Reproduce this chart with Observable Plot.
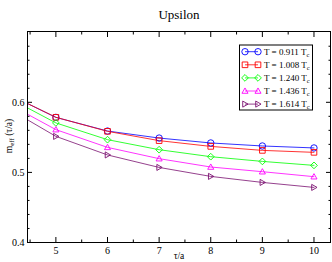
<!DOCTYPE html>
<html><head><meta charset="utf-8">
<script src="https://cdn.jsdelivr.net/npm/d3@7"></script>
<script src="https://cdn.jsdelivr.net/npm/@observablehq/plot@0.6"></script>
<style>
body{margin:0;background:#fff;}
#c{position:relative;width:332px;height:262px;}
#c svg, #c svg text, #c svg tspan{font-family:"Liberation Serif","Times New Roman","DejaVu Serif",serif !important;font-weight:normal;}
</style></head><body><div id="c"></div>
<script>
const tau = [4, 5, 6, 7, 8, 9, 10];
const seriesNames = ["T = 0.911 T", "T = 1.008 T", "T = 1.240 T", "T = 1.436 T", "T = 1.614 T"];
const s0911 = [0.6144, 0.5785, 0.5590, 0.5490, 0.5420, 0.5377, 0.5349];
const s1008 = [0.6144, 0.5786, 0.5586, 0.5453, 0.5371, 0.5314, 0.5286];
const s1240 = [0.6096, 0.5706, 0.5467, 0.5324, 0.5224, 0.5157, 0.5100];
const s1436 = [0.6010, 0.5610, 0.5357, 0.5196, 0.5077, 0.5010, 0.4939];
const s1614 = [0.5944, 0.5514, 0.5249, 0.5071, 0.4943, 0.4857, 0.4786];
const xTicks = [5, 6, 7, 8, 9, 10];
const xMinor = [4.5, 5.5, 6.5, 7.5, 8.5, 9.5];
const yTicks = [0.4, 0.5, 0.6];
const yMinor = [0.42, 0.44, 0.46, 0.48, 0.52, 0.54, 0.56, 0.58, 0.62, 0.64, 0.66, 0.68];
const colors = ["#0000ff", "#ff0000", "#00ff00", "#ff00ff", "#7a1070"];
// symbol size = pi*r^2 (r = 3.2) -> scale to a ~3px half-width
const triUp = {draw(ctx, size) { const r = Math.sqrt(size / Math.PI) * 0.95; ctx.moveTo(0, -r); ctx.lineTo(r, r * 0.75); ctx.lineTo(-r, r * 0.75); ctx.closePath(); }};
const triRight = {draw(ctx, size) { const r = Math.sqrt(size / Math.PI) * 0.95; ctx.moveTo(-r * 0.75, -r); ctx.lineTo(r, 0); ctx.lineTo(-r * 0.75, r); ctx.closePath(); }};
const square = {draw(ctx, size) { const r = Math.sqrt(size / Math.PI) * 0.88; ctx.rect(-r, -r, 2 * r, 2 * r); }};
const diamond = {draw(ctx, size) { const r = Math.sqrt(size / Math.PI) * 1.05; ctx.moveTo(0, -r); ctx.lineTo(r, 0); ctx.lineTo(0, r); ctx.lineTo(-r, 0); ctx.closePath(); }};
const circle = {draw(ctx, size) { const r = Math.sqrt(size / Math.PI); ctx.moveTo(r, 0); ctx.arc(0, 0, r, 0, 2 * Math.PI); }};
const symbols = [circle, square, diamond, triUp, triRight];
const allSeries = [s0911, s1008, s1240, s1436, s1614];
const data = [];
allSeries.forEach((s, i) => s.forEach((v, j) => data.push({tau: tau[j], m: v, k: i})));
const pts = data.filter(d => d.tau >= 5);
const R = 3.2;

const noLab = () => "";
const plot = Plot.plot({
  width: 332, height: 262,
  marginLeft: 27, marginRight: 2, marginTop: 31, marginBottom: 20,
  style: {fontSize: "10px", background: "#fff", color: "#000"},
  x: {domain: [4.45, 10.32], label: null},
  y: {domain: [0.4, 0.701], label: null},
  marks: [
    Plot.line(data, {x: "tau", y: "m", z: "k", stroke: d => colors[d.k], strokeWidth: 0.8, clip: true}),
    Plot.dot(pts, {x: "tau", y: "m", stroke: d => colors[d.k], symbol: d => symbols[d.k], r: R, strokeWidth: 0.9, fill: "none"}),
    Plot.frame({stroke: "#000", strokeWidth: 1}),
    Plot.axisX(xTicks, {anchor: "bottom", tickSize: -5, tickPadding: 9, label: null, fontSize: 10}),
    Plot.axisX(xTicks, {anchor: "top", tickSize: -5, tickFormat: noLab, label: null}),
    Plot.axisX(xMinor, {anchor: "bottom", tickSize: -2.5, tickFormat: noLab, label: null}),
    Plot.axisX(xMinor, {anchor: "top", tickSize: -2.5, tickFormat: noLab, label: null}),
    Plot.axisY(yTicks, {anchor: "left", tickSize: -5, tickPadding: 8, tickFormat: d3.format(".1f"), label: null, fontSize: 10}),
    Plot.axisY(yTicks, {anchor: "right", tickSize: -5, tickFormat: noLab, label: null}),
    Plot.axisY(yMinor, {anchor: "left", tickSize: -2.5, tickFormat: noLab, label: null}),
    Plot.axisY(yMinor, {anchor: "right", tickSize: -2.5, tickFormat: noLab, label: null})
  ]
});
plot.style.position = "absolute";
plot.style.left = "0px";
plot.style.top = "0px";
document.getElementById("c").appendChild(plot);

const svg = d3.select(plot);
svg.append("text").attr("x", 179).attr("y", 19).attr("text-anchor", "middle")
  .attr("font-size", 13).text("Upsilon");
svg.append("text").attr("x", 179).attr("y", 259).attr("text-anchor", "middle")
  .attr("font-size", 9.5).text("τ/a");
const yl = svg.append("text").attr("transform", "translate(12,136) rotate(-90)").attr("text-anchor", "middle")
  .attr("font-size", 9.5);
yl.append("tspan").text("m");
yl.append("tspan").attr("font-size", 7).attr("dy", 2).text("eff");
yl.append("tspan").attr("dy", -2).text(" (τ/a)");

const lg = svg.append("g");
lg.append("rect").attr("x", 239.5).attr("y", 45).attr("width", 73).attr("height", 65)
  .attr("fill", "#fff").attr("stroke", "#000").attr("stroke-width", 1);
seriesNames.forEach((name, i) => {
  const y = 51.7 + i * 13.1;
  const g = lg.append("g");
  g.append("line").attr("x1", 245).attr("x2", 258).attr("y1", y).attr("y2", y).attr("stroke", colors[i]).attr("stroke-width", 0.8);
  [245, 258].forEach(x => g.append("path").attr("d", d3.symbol(symbols[i], Math.PI * R * R)())
    .attr("transform", `translate(${x},${y})`).attr("fill", "none").attr("stroke", colors[i]).attr("stroke-width", 0.9));
  const t = g.append("text").attr("x", 264).attr("y", y + 3).attr("text-anchor", "start").attr("font-size", 9);
  t.append("tspan").text(name);
  t.append("tspan").attr("font-size", 6.5).attr("dy", 2).text("c");
});
</script></body></html>
